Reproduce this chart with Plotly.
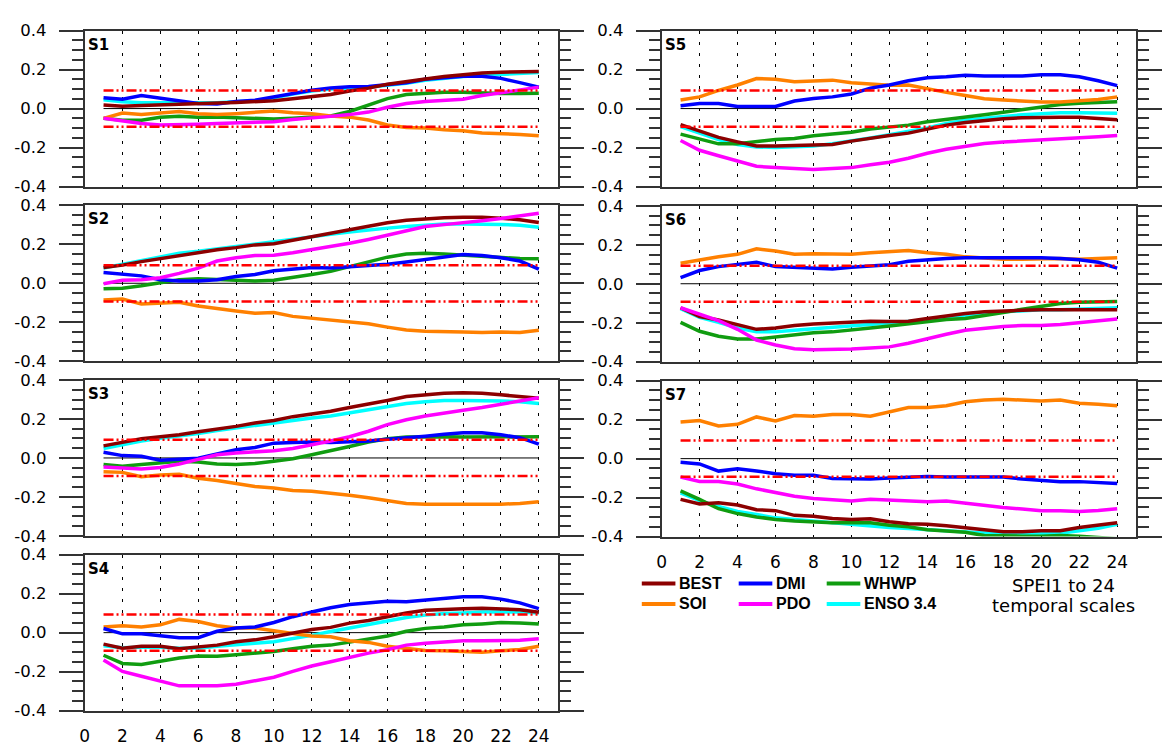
import plotly.graph_objects as go

# ---------------- data ----------------
SCALES = [1, 2, 3, 4, 5, 6, 7, 8, 9, 10, 11, 12, 13, 14, 15, 16, 17, 18, 19, 20, 21, 22, 23, 24]
X_TICKS = [0, 2, 4, 6, 8, 10, 12, 14, 16, 18, 20, 22, 24]
X_TICK_LABELS = ["0", "2", "4", "6", "8", "10", "12", "14", "16", "18", "20", "22", "24"]
Y_TICKS = [-0.4, -0.2, 0.0, 0.2, 0.4]
Y_TICK_LABELS = ["-0.4", "-0.2", "0.0", "0.2", "0.4"]
SIG_LEVEL = 0.093
PANELS = ["S1", "S2", "S3", "S4", "S5", "S6", "S7"]
SERIES = ["BEST", "SOI", "DMI", "PDO", "WHWP", "ENSO 3.4"]

S1_BEST = [0.018, 0.012, 0.016, 0.02, 0.022, 0.026, 0.028, 0.031, 0.035, 0.04, 0.05, 0.06, 0.072, 0.09, 0.105, 0.125, 0.14, 0.152, 0.165, 0.175, 0.183, 0.187, 0.19, 0.19]
S1_SOI = [-0.05, -0.023, -0.031, -0.023, -0.015, -0.026, -0.031, -0.026, -0.018, -0.012, -0.021, -0.026, -0.038, -0.044, -0.059, -0.084, -0.097, -0.1, -0.109, -0.114, -0.125, -0.127, -0.133, -0.14]
S1_DMI = [0.056, 0.048, 0.067, 0.053, 0.043, 0.026, 0.023, 0.036, 0.043, 0.061, 0.077, 0.094, 0.105, 0.112, 0.113, 0.122, 0.133, 0.15, 0.16, 0.166, 0.166, 0.155, 0.133, 0.11]
S1_PDO = [-0.05, -0.064, -0.077, -0.084, -0.084, -0.08, -0.076, -0.072, -0.071, -0.067, -0.056, -0.046, -0.04, -0.031, -0.018, 0.007, 0.026, 0.036, 0.043, 0.048, 0.067, 0.08, 0.097, 0.11]
S1_WHWP = [-0.05, -0.06, -0.06, -0.045, -0.04, -0.045, -0.043, -0.046, -0.05, -0.054, -0.05, -0.046, -0.038, -0.015, 0.018, 0.051, 0.072, 0.08, 0.084, 0.084, 0.08, 0.077, 0.077, 0.079]
S1_ENSO = [0.045, 0.035, 0.03, 0.03, 0.03, 0.03, 0.03, 0.035, 0.04, 0.055, 0.075, 0.09, 0.1, 0.105, 0.11, 0.12, 0.13, 0.145, 0.155, 0.165, 0.17, 0.175, 0.18, 0.185]

S2_BEST = [0.081, 0.093, 0.111, 0.126, 0.142, 0.159, 0.172, 0.183, 0.197, 0.203, 0.221, 0.238, 0.253, 0.271, 0.291, 0.311, 0.324, 0.332, 0.336, 0.339, 0.339, 0.334, 0.326, 0.312]
S2_SOI = [-0.086, -0.081, -0.107, -0.101, -0.098, -0.117, -0.131, -0.142, -0.154, -0.15, -0.17, -0.179, -0.187, -0.197, -0.208, -0.225, -0.24, -0.246, -0.246, -0.25, -0.253, -0.25, -0.253, -0.241]
S2_DMI = [0.055, 0.045, 0.038, 0.018, 0.012, 0.012, 0.018, 0.035, 0.045, 0.064, 0.073, 0.081, 0.078, 0.084, 0.089, 0.098, 0.109, 0.122, 0.137, 0.147, 0.142, 0.131, 0.114, 0.073]
S2_PDO = [-0.002, 0.015, 0.018, 0.028, 0.051, 0.078, 0.114, 0.131, 0.142, 0.144, 0.157, 0.172, 0.188, 0.205, 0.225, 0.246, 0.271, 0.291, 0.301, 0.309, 0.321, 0.332, 0.345, 0.359]
S2_WHWP = [-0.028, -0.025, -0.013, 0.003, 0.018, 0.023, 0.018, 0.015, 0.012, 0.015, 0.028, 0.045, 0.061, 0.084, 0.109, 0.134, 0.15, 0.154, 0.15, 0.144, 0.137, 0.131, 0.127, 0.126]
S2_ENSO = [0.078, 0.098, 0.117, 0.137, 0.154, 0.164, 0.177, 0.187, 0.2, 0.213, 0.225, 0.238, 0.251, 0.263, 0.274, 0.283, 0.291, 0.299, 0.304, 0.304, 0.304, 0.302, 0.298, 0.288]

S3_BEST = [0.062, 0.079, 0.099, 0.109, 0.119, 0.134, 0.146, 0.162, 0.179, 0.192, 0.212, 0.225, 0.24, 0.259, 0.275, 0.295, 0.315, 0.325, 0.332, 0.335, 0.332, 0.324, 0.317, 0.307]
S3_SOI = [-0.071, -0.074, -0.096, -0.087, -0.084, -0.104, -0.116, -0.132, -0.147, -0.154, -0.167, -0.171, -0.179, -0.191, -0.204, -0.22, -0.234, -0.237, -0.237, -0.24, -0.237, -0.237, -0.234, -0.225]
S3_DMI = [0.029, 0.012, 0.009, -0.012, -0.007, -0.001, 0.021, 0.042, 0.054, 0.076, 0.079, 0.082, 0.079, 0.082, 0.087, 0.096, 0.102, 0.112, 0.122, 0.129, 0.129, 0.119, 0.104, 0.071]
S3_PDO = [-0.046, -0.051, -0.057, -0.049, -0.031, -0.007, 0.016, 0.026, 0.032, 0.037, 0.049, 0.066, 0.087, 0.109, 0.137, 0.171, 0.196, 0.215, 0.232, 0.245, 0.259, 0.275, 0.292, 0.309]
S3_WHWP = [-0.034, -0.042, -0.034, -0.024, -0.017, -0.021, -0.031, -0.034, -0.029, -0.017, -0.004, 0.016, 0.036, 0.059, 0.082, 0.099, 0.107, 0.109, 0.109, 0.107, 0.107, 0.106, 0.107, 0.109]
S3_ENSO = [0.049, 0.069, 0.087, 0.101, 0.112, 0.126, 0.141, 0.154, 0.169, 0.182, 0.192, 0.205, 0.215, 0.232, 0.249, 0.265, 0.279, 0.289, 0.295, 0.295, 0.295, 0.292, 0.289, 0.279]

S4_BEST = [-0.059, -0.08, -0.07, -0.07, -0.083, -0.075, -0.064, -0.047, -0.037, -0.021, -0.001, 0.016, 0.027, 0.049, 0.062, 0.082, 0.101, 0.115, 0.12, 0.123, 0.125, 0.123, 0.118, 0.105]
S4_SOI = [0.029, 0.035, 0.029, 0.04, 0.068, 0.057, 0.035, 0.024, 0.024, 0.012, -0.004, -0.017, -0.021, -0.042, -0.05, -0.07, -0.083, -0.092, -0.093, -0.097, -0.1, -0.093, -0.087, -0.07]
S4_DMI = [0.021, -0.006, -0.006, -0.017, -0.026, -0.026, 0.007, 0.024, 0.029, 0.052, 0.082, 0.106, 0.128, 0.144, 0.151, 0.161, 0.159, 0.167, 0.176, 0.184, 0.184, 0.172, 0.153, 0.123]
S4_PDO = [-0.141, -0.199, -0.224, -0.248, -0.273, -0.273, -0.273, -0.265, -0.248, -0.229, -0.199, -0.171, -0.149, -0.125, -0.105, -0.088, -0.064, -0.055, -0.047, -0.042, -0.042, -0.039, -0.039, -0.031]
S4_WHWP = [-0.116, -0.158, -0.163, -0.146, -0.13, -0.12, -0.121, -0.113, -0.105, -0.097, -0.083, -0.07, -0.064, -0.047, -0.031, -0.017, 0.007, 0.022, 0.029, 0.04, 0.045, 0.052, 0.049, 0.045]
S4_ENSO = [-0.067, -0.077, -0.075, -0.075, -0.08, -0.08, -0.07, -0.06, -0.054, -0.047, -0.031, -0.014, 0.006, 0.024, 0.04, 0.06, 0.078, 0.09, 0.098, 0.101, 0.106, 0.106, 0.106, 0.101]

S5_BEST = [-0.082, -0.115, -0.148, -0.171, -0.192, -0.192, -0.189, -0.187, -0.184, -0.167, -0.151, -0.138, -0.126, -0.105, -0.085, -0.072, -0.06, -0.052, -0.047, -0.044, -0.044, -0.044, -0.049, -0.057]
S5_SOI = [0.044, 0.06, 0.093, 0.121, 0.154, 0.151, 0.138, 0.143, 0.146, 0.133, 0.125, 0.12, 0.121, 0.1, 0.083, 0.067, 0.05, 0.044, 0.039, 0.034, 0.034, 0.039, 0.047, 0.06]
S5_DMI = [0.014, 0.026, 0.026, 0.011, 0.011, 0.011, 0.039, 0.052, 0.06, 0.075, 0.105, 0.121, 0.143, 0.158, 0.163, 0.171, 0.167, 0.166, 0.167, 0.174, 0.174, 0.163, 0.143, 0.118]
S5_PDO = [-0.164, -0.214, -0.242, -0.27, -0.296, -0.303, -0.309, -0.313, -0.308, -0.303, -0.288, -0.275, -0.255, -0.229, -0.209, -0.192, -0.179, -0.172, -0.167, -0.163, -0.156, -0.151, -0.144, -0.138]
S5_WHWP = [-0.131, -0.156, -0.181, -0.181, -0.171, -0.159, -0.154, -0.139, -0.131, -0.121, -0.105, -0.093, -0.085, -0.068, -0.057, -0.047, -0.032, -0.019, -0.006, 0.009, 0.021, 0.027, 0.031, 0.035]
S5_ENSO = [-0.093, -0.126, -0.159, -0.184, -0.197, -0.2, -0.197, -0.192, -0.181, -0.167, -0.151, -0.134, -0.118, -0.099, -0.077, -0.06, -0.049, -0.039, -0.032, -0.027, -0.022, -0.022, -0.024, -0.024]

S6_BEST = [-0.123, -0.168, -0.186, -0.209, -0.234, -0.227, -0.214, -0.206, -0.201, -0.194, -0.193, -0.194, -0.193, -0.178, -0.164, -0.153, -0.144, -0.139, -0.136, -0.134, -0.134, -0.134, -0.134, -0.134]
S6_SOI = [0.105, 0.123, 0.139, 0.151, 0.179, 0.168, 0.151, 0.154, 0.154, 0.151, 0.159, 0.164, 0.171, 0.159, 0.151, 0.138, 0.131, 0.126, 0.126, 0.129, 0.129, 0.126, 0.131, 0.134]
S6_DMI = [0.032, 0.068, 0.088, 0.101, 0.11, 0.088, 0.085, 0.081, 0.076, 0.085, 0.093, 0.098, 0.115, 0.123, 0.129, 0.134, 0.134, 0.131, 0.131, 0.134, 0.129, 0.123, 0.11, 0.08]
S6_PDO = [-0.123, -0.156, -0.189, -0.234, -0.289, -0.314, -0.334, -0.339, -0.339, -0.335, -0.33, -0.324, -0.305, -0.28, -0.259, -0.239, -0.227, -0.219, -0.214, -0.214, -0.209, -0.201, -0.193, -0.181]
S6_WHWP = [-0.198, -0.244, -0.269, -0.284, -0.284, -0.272, -0.261, -0.252, -0.247, -0.239, -0.227, -0.217, -0.206, -0.194, -0.184, -0.178, -0.164, -0.148, -0.131, -0.115, -0.101, -0.095, -0.095, -0.091]
S6_ENSO = [-0.128, -0.173, -0.198, -0.227, -0.247, -0.247, -0.239, -0.231, -0.227, -0.219, -0.209, -0.201, -0.194, -0.186, -0.173, -0.161, -0.151, -0.144, -0.139, -0.134, -0.134, -0.131, -0.128, -0.123]

S7_BEST = [-0.209, -0.233, -0.226, -0.238, -0.262, -0.267, -0.291, -0.296, -0.307, -0.312, -0.309, -0.324, -0.334, -0.337, -0.345, -0.357, -0.365, -0.375, -0.375, -0.37, -0.37, -0.353, -0.341, -0.329]
S7_SOI = [0.188, 0.196, 0.168, 0.176, 0.214, 0.193, 0.221, 0.218, 0.226, 0.226, 0.218, 0.238, 0.262, 0.262, 0.271, 0.292, 0.301, 0.305, 0.301, 0.296, 0.301, 0.284, 0.279, 0.272]
S7_DMI = [-0.019, -0.027, -0.064, -0.052, -0.064, -0.077, -0.085, -0.085, -0.102, -0.102, -0.105, -0.1, -0.094, -0.092, -0.094, -0.094, -0.097, -0.094, -0.105, -0.113, -0.118, -0.118, -0.122, -0.127]
S7_PDO = [-0.094, -0.117, -0.117, -0.13, -0.155, -0.176, -0.193, -0.204, -0.209, -0.218, -0.208, -0.213, -0.216, -0.221, -0.218, -0.229, -0.243, -0.251, -0.259, -0.267, -0.267, -0.271, -0.266, -0.257]
S7_WHWP = [-0.166, -0.209, -0.257, -0.282, -0.299, -0.312, -0.32, -0.325, -0.329, -0.329, -0.329, -0.342, -0.35, -0.365, -0.37, -0.378, -0.395, -0.398, -0.398, -0.398, -0.395, -0.398, -0.403, -0.411]
S7_ENSO = [-0.176, -0.216, -0.246, -0.271, -0.287, -0.304, -0.312, -0.32, -0.332, -0.34, -0.345, -0.353, -0.358, -0.365, -0.37, -0.375, -0.382, -0.387, -0.387, -0.387, -0.383, -0.37, -0.357, -0.337]

PANEL_DATA = {
    "S1": {"BEST": S1_BEST, "SOI": S1_SOI, "DMI": S1_DMI, "PDO": S1_PDO, "WHWP": S1_WHWP, "ENSO 3.4": S1_ENSO},
    "S2": {"BEST": S2_BEST, "SOI": S2_SOI, "DMI": S2_DMI, "PDO": S2_PDO, "WHWP": S2_WHWP, "ENSO 3.4": S2_ENSO},
    "S3": {"BEST": S3_BEST, "SOI": S3_SOI, "DMI": S3_DMI, "PDO": S3_PDO, "WHWP": S3_WHWP, "ENSO 3.4": S3_ENSO},
    "S4": {"BEST": S4_BEST, "SOI": S4_SOI, "DMI": S4_DMI, "PDO": S4_PDO, "WHWP": S4_WHWP, "ENSO 3.4": S4_ENSO},
    "S5": {"BEST": S5_BEST, "SOI": S5_SOI, "DMI": S5_DMI, "PDO": S5_PDO, "WHWP": S5_WHWP, "ENSO 3.4": S5_ENSO},
    "S6": {"BEST": S6_BEST, "SOI": S6_SOI, "DMI": S6_DMI, "PDO": S6_PDO, "WHWP": S6_WHWP, "ENSO 3.4": S6_ENSO},
    "S7": {"BEST": S7_BEST, "SOI": S7_SOI, "DMI": S7_DMI, "PDO": S7_PDO, "WHWP": S7_WHWP, "ENSO 3.4": S7_ENSO},
}

# ---------------- styling / layout ----------------
COLORS = {"BEST": "#8c0000", "SOI": "#ff8000", "DMI": "#0000ff",
          "PDO": "#ff00ff", "WHWP": "#109c10", "ENSO 3.4": "#00ffff"}
DRAW_ORDER = ["ENSO 3.4", "WHWP", "SOI", "DMI", "BEST", "PDO"]
FONT = "Liberation Sans, Arial, Helvetica, sans-serif"
WIDE_FONT = "DejaVu Sans, Verdana, sans-serif"
FRAME = "#333333"

W, H = 1162, 746
COLS = {"L": (80.5, 559.0), "R": (664.0, 1144.0)}
PANEL_POS = {"S1": ("L", 22.3), "S2": ("L", 202.3), "S3": ("L", 382.3), "S4": ("L", 562.3),
             "S5": ("R", 22.3), "S6": ("R", 202.8), "S7": ("R", 383.0)}
PH = 160.6
BOTTOM_PANELS = {"S4", "S7"}

fig = go.Figure()
annotations = []
shapes = []

for k, name in enumerate(PANELS, start=1):
    col, top = PANEL_POS[name]
    x0, x1 = COLS[col]
    xa = "x" if k == 1 else f"x{k}"
    ya = "y" if k == 1 else f"y{k}"
    xkey = "xaxis" if k == 1 else f"xaxis{k}"
    ykey = "yaxis" if k == 1 else f"yaxis{k}"

    # zero line
    fig.add_trace(go.Scatter(x=[SCALES[0], SCALES[-1]], y=[0, 0], mode="lines",
                             line=dict(color="black", width=1), xaxis=xa, yaxis=ya,
                             showlegend=False, hoverinfo="skip"))
    for s in DRAW_ORDER:
        fig.add_trace(go.Scatter(x=SCALES, y=PANEL_DATA[name][s], mode="lines", name=s,
                                 line=dict(color=COLORS[s], width=3.5), xaxis=xa, yaxis=ya,
                                 showlegend=False))
    for sign in (1, -1):
        fig.add_trace(go.Scatter(x=[SCALES[0], SCALES[-1]], y=[sign * SIG_LEVEL] * 2, mode="lines",
                                 line=dict(color="#ff0000", width=2.5, dash="10px,3px,2px,3px,2px,3px"),
                                 xaxis=xa, yaxis=ya, showlegend=False, hoverinfo="skip"))

    fig.layout[xkey] = dict(
        domain=[x0 / W, x1 / W], range=[0, 25], anchor=ya,
        tickmode="array", tickvals=X_TICKS, ticktext=X_TICK_LABELS,
        showticklabels=name in BOTTOM_PANELS,
        ticks="outside", ticklen=9, tickcolor="rgba(0,0,0,0)",
        tickfont=dict(family=WIDE_FONT, size=17, color="black"),
        showgrid=True, gridcolor="black", gridwidth=1.3, griddash="3px,8px",
        showline=True, mirror=True, linecolor=FRAME, linewidth=1.6, zeroline=False,
        fixedrange=True,
    )
    fig.layout[ykey] = dict(
        domain=[1 - (top + PH) / H, 1 - top / H], range=[-0.4, 0.4], anchor=xa,
        tickmode="array", tickvals=Y_TICKS, ticktext=Y_TICK_LABELS,
        ticks="outside", ticklen=24, tickwidth=1.5, tickcolor=FRAME,
        tickfont=dict(family=WIDE_FONT, size=16.5, color="black"), ticklabelstandoff=9,
        minor=dict(dtick=0.05, tick0=0, ticks="outside", ticklen=11, tickwidth=1.5,
                   tickcolor=FRAME, showgrid=False),
        showline=True, mirror="ticks", linecolor=FRAME, linewidth=1.6,
        showgrid=False, zeroline=False, fixedrange=True,
    )
    annotations.append(dict(text=f"<b>{name}</b>", xref="paper", yref="paper",
                            x=(x0 + 1) / W, y=1 - (top + 14.5) / H, xanchor="left", yanchor="middle",
                            showarrow=False, font=dict(family=WIDE_FONT, size=15, color="black")))

# ---------------- legend (manual, 3 columns x 2 rows) ----------------
LEGEND_GRID = [["BEST", "DMI", "WHWP"], ["SOI", "PDO", "ENSO 3.4"]]
LEG_COL_X = [644, 742, 831]
LEG_ROW_Y = [592, 613]
for r, row in enumerate(LEGEND_GRID):
    for c, s in enumerate(row):
        lx = LEG_COL_X[c]
        ly = LEG_ROW_Y[r]
        shapes.append(dict(type="line", xref="paper", yref="paper",
                           x0=lx / W, x1=(lx + 34) / W, y0=1 - ly / H, y1=1 - ly / H,
                           line=dict(color=COLORS[s], width=4)))
        annotations.append(dict(text=f"<b>{s}</b>", xref="paper", yref="paper",
                                x=(lx + 36) / W, y=1 - ly / H, xanchor="left", yanchor="middle",
                                showarrow=False, font=dict(family=FONT, size=16, color="black")))

NOTE_LINES = ["SPEI1 to 24", "temporal scales"]
NOTE_Y = [594, 615]
for txt, ny in zip(NOTE_LINES, NOTE_Y):
    annotations.append(dict(text=txt, xref="paper", yref="paper",
                            x=1070 / W, y=1 - ny / H, xanchor="center", yanchor="middle",
                            showarrow=False, borderpad=0,
                            font=dict(family=WIDE_FONT, size=18, color="black")))

fig.update_layout(width=W, height=H, autosize=False,
                  margin=dict(l=0, r=0, t=0, b=0, pad=0),
                  paper_bgcolor="white", plot_bgcolor="white",
                  annotations=annotations, shapes=shapes, showlegend=False,
                  font=dict(family=FONT, color="black"))

fig.write_html("out.html")
